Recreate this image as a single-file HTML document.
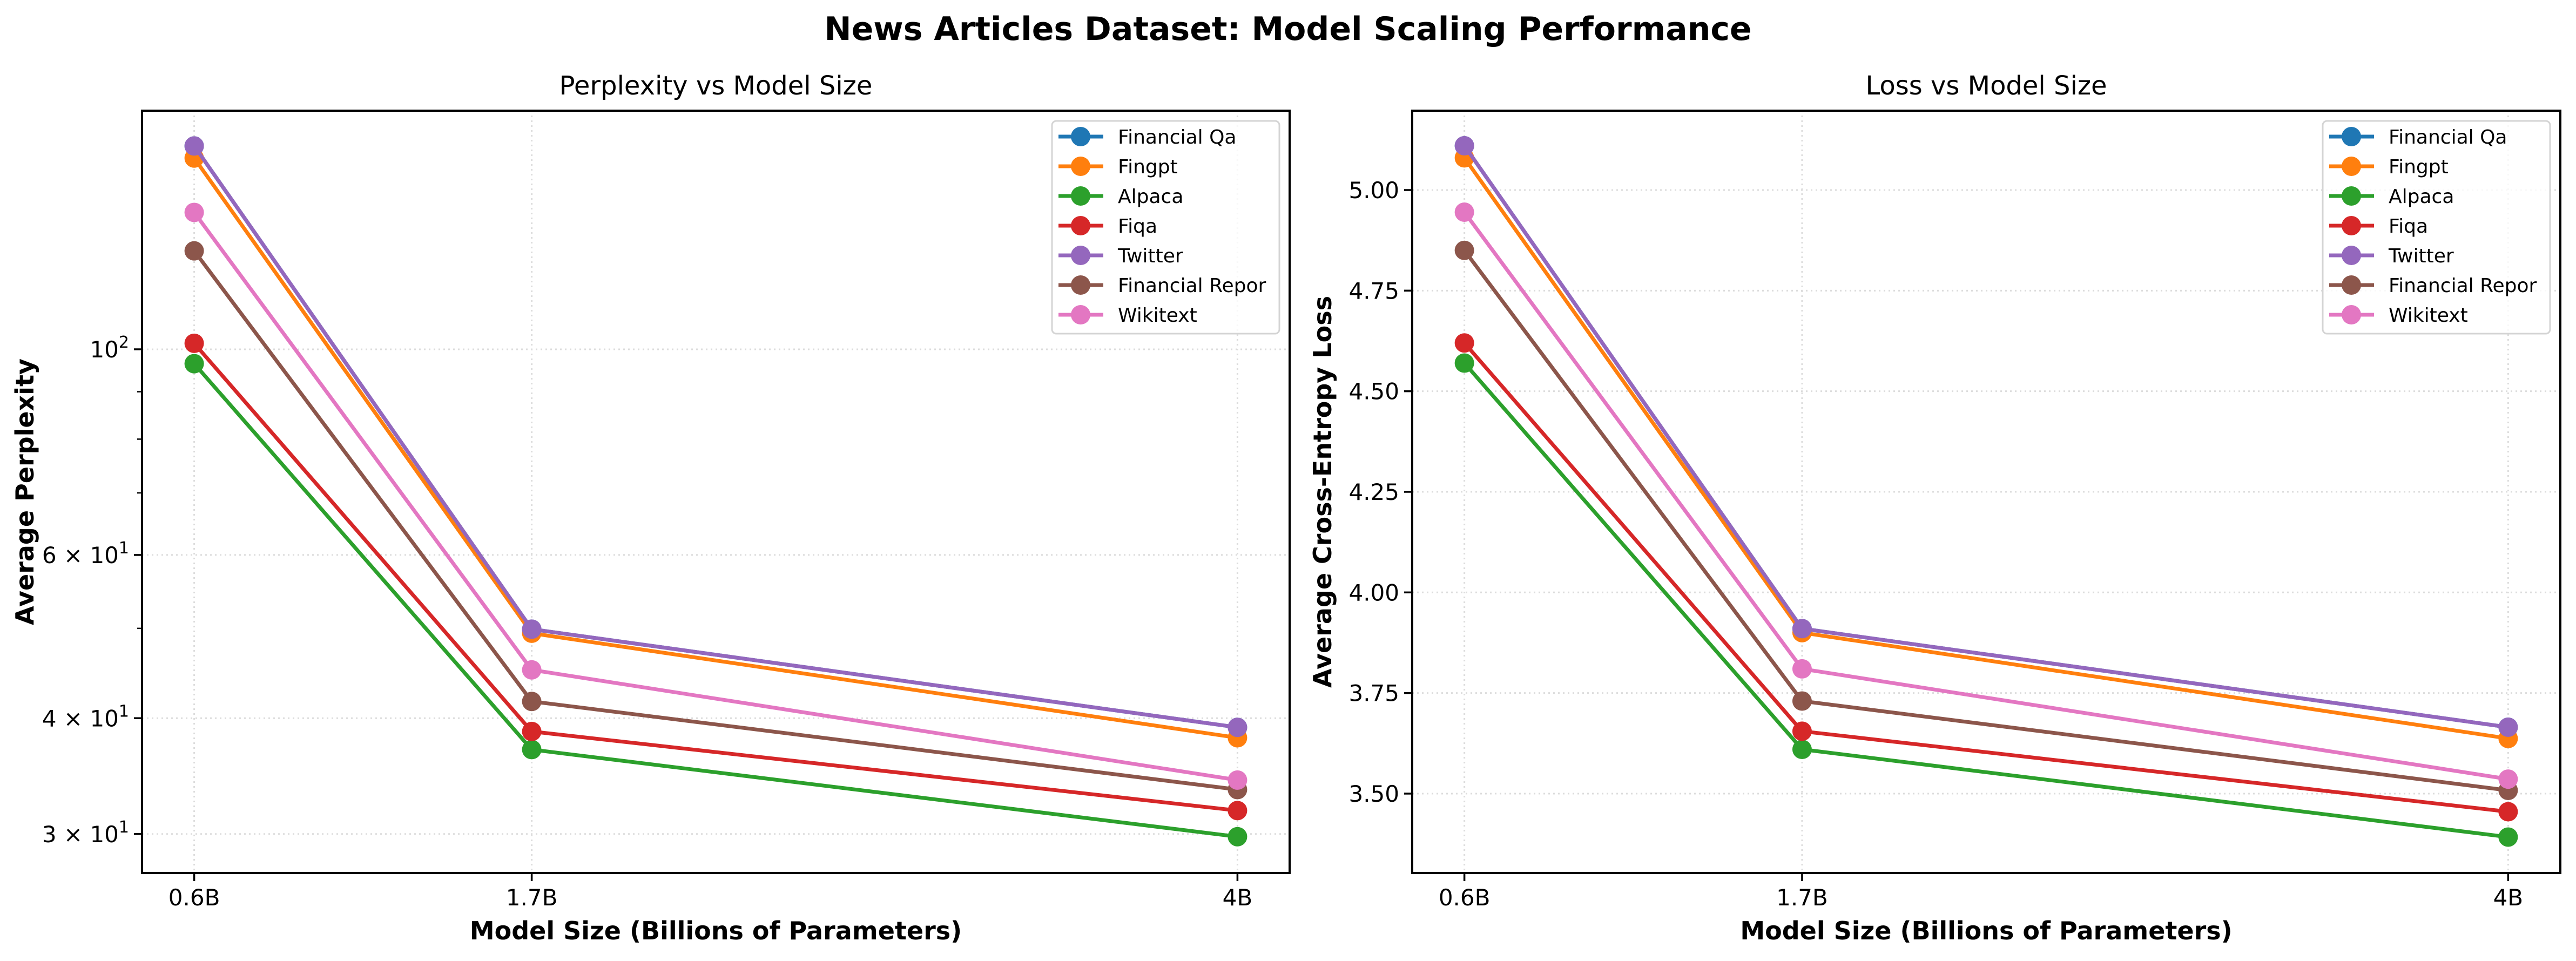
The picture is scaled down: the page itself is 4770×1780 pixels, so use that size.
<!DOCTYPE html>
<html><head><meta charset="utf-8"><style>
html,body{margin:0;padding:0;background:#fff;}
svg{display:block;font-family:"DejaVu Sans","Liberation Sans",sans-serif;}
</style></head><body>
<svg id="fig" width="4770" height="1780" viewBox="0 0 4770 1780" xmlns="http://www.w3.org/2000/svg">
<rect width="4770" height="1780" fill="#fff"/>
<text x="2385" y="74" text-anchor="middle" font-size="60" font-weight="bold">News Articles Dataset: Model Scaling Performance</text>
<g id="left"></g>
<g id="right"></g>
</svg>
<script>
const modelSizes = [0.6, 1.7, 4];
const sizeLabels = ["0.6B", "1.7B", "4B"];
const seriesNames = ["Financial Qa", "Fingpt", "Alpaca", "Fiqa", "Twitter", "Financial Repor", "Wikitext"];
const seriesColors = ["#1f77b4", "#ff7f0e", "#2ca02c", "#d62728", "#9467bd", "#8c564b", "#e377c2"];
const pplFinQa = [165.7, 49.9, 39.1];
const pplFingpt = [160.8, 49.4, 38.1];
const pplAlpaca = [96.5, 37.0, 29.8];
const pplFiqa = [101.5, 38.7, 31.8];
const pplTwitter = [165.7, 49.9, 39.1];
const pplFinRep = [127.7, 41.7, 33.5];
const pplWiki = [140.5, 45.1, 34.3];
const lossFinQa = [5.11, 3.91, 3.665];
const lossFingpt = [5.08, 3.90, 3.637];
const lossAlpaca = [4.57, 3.61, 3.392];
const lossFiqa = [4.62, 3.655, 3.455];
const lossTwitter = [5.11, 3.91, 3.665];
const lossFinRep = [4.85, 3.73, 3.508];
const lossWiki = [4.945, 3.81, 3.536];
const pplTicks = [30, 40, 60, 100];
const pplTickLabels = ["3", "4", "6", "10"];
const pplMinorTicks = [50, 70, 80, 90];
const lossTicks = [3.5, 3.75, 4.0, 4.25, 4.5, 4.75, 5.0];
const lossTickLabels = ["3.50", "3.75", "4.00", "4.25", "4.50", "4.75", "5.00"];

const pplSeries = [pplFinQa, pplFingpt, pplAlpaca, pplFiqa, pplTwitter, pplFinRep, pplWiki];
const lossSeries = [lossFinQa, lossFingpt, lossAlpaca, lossFiqa, lossTwitter, lossFinRep, lossWiki];

const NS = "http://www.w3.org/2000/svg";
function mk(parent, tag, attrs) {
  const e = document.createElementNS(NS, tag);
  for (const k in attrs) e.setAttribute(k, attrs[k]);
  parent.appendChild(e);
  return e;
}

function panel(g, x0, x1, yScale, series, ticks, tickLabels, isLog, title, ylabel) {
  const top = 205, bot = 1617;
  const xmin = 0.6, xmax = 4, m = (x1 - x0) / 1.1 * 0.05;
  const xs = v => x0 + m + (v - xmin) / (xmax - xmin) * (x1 - x0 - 2 * m);
  modelSizes.forEach((v, i) => {
    const l = mk(g, "line", {x1: xs(v), x2: xs(v), y1: top, y2: bot, stroke: "#dcdcdc", "stroke-width": 3, "stroke-dasharray": "3 6"});
    
    
  });
  ticks.forEach(v => {
    const l = mk(g, "line", {x1: x0, x2: x1, y1: yScale(v), y2: yScale(v), stroke: "#dcdcdc", "stroke-width": 3, "stroke-dasharray": "3 6"});
    
    
  });
  series.forEach((vals, si) => {
    const pts = vals.map((v, i) => xs(modelSizes[i]) + "," + yScale(v)).join(" ");
    const sg = mk(g, "g", {});
    
    
    mk(sg, "polyline", {points: pts, fill: "none", stroke: seriesColors[si], "stroke-width": 7, "stroke-linejoin": "round"});
    vals.forEach((v, i) => {
      const c = mk(sg, "circle", {cx: xs(modelSizes[i]), cy: yScale(v), r: 18, fill: seriesColors[si]});
      
      
    });
  });
  const frame = mk(g, "rect", {x: x0, y: top, width: x1 - x0, height: bot - top, fill: "none", stroke: "#000", "stroke-width": 4});
  
  
  modelSizes.forEach((v, i) => {
    mk(g, "line", {x1: xs(v), x2: xs(v), y1: bot, y2: bot + 15, stroke: "#000", "stroke-width": 3.5});
    const t = mk(g, "text", {x: xs(v), y: bot + 60, "text-anchor": "middle", "font-size": 42});
    t.textContent = sizeLabels[i];
    
    
  });
  ticks.forEach((v, i) => {
    const y = yScale(v);
    mk(g, "line", {x1: x0 - 15, x2: x0, y1: y, y2: y, stroke: "#000", "stroke-width": 3.5});
    const t = mk(g, "text", {x: x0 - 24, y: y + 15, "text-anchor": "end", "font-size": 42});
    if (isLog) {
      if (v === 100) {
        t.innerHTML = '10<tspan dy="-18" font-size="30">2</tspan>';
      } else {
        t.innerHTML = tickLabels[i] + ' × 10<tspan dy="-18" font-size="30">1</tspan>';
      }
    } else {
      t.textContent = tickLabels[i];
    }
    
    
  });
  if (isLog) {
    pplMinorTicks.forEach(v => {
      mk(g, "line", {x1: x0 - 9, x2: x0, y1: yScale(v), y2: yScale(v), stroke: "#000", "stroke-width": 2.5});
    });
  }
  const tt = mk(g, "text", {x: (x0 + x1) / 2, y: 175, "text-anchor": "middle", "font-size": 48});
  tt.textContent = title;
  
  
  const xl = mk(g, "text", {x: (x0 + x1) / 2, y: 1740, "text-anchor": "middle", "font-size": 46, "font-weight": "bold"});
  xl.textContent = "Model Size (Billions of Parameters)";
  
  
  const lx = isLog ? 62 : 2465;
  const yl = mk(g, "text", {x: lx, y: (top + bot) / 2, "text-anchor": "middle", "font-size": 46, "font-weight": "bold", transform: "rotate(-90 " + lx + " " + ((top + bot) / 2) + ")"});
  yl.textContent = ylabel;
  
  
  const lg = mk(g, "g", {});
  
  
  const lx0 = x1 - 440;
  mk(lg, "rect", {x: lx0, y: 224, width: 421, height: 394, rx: 8, fill: "#fff", "fill-opacity": 0.8, stroke: "#d4d4d4", "stroke-width": 3});
  seriesNames.forEach((n, i) => {
    const y = 253 + i * 55;
    const e = mk(lg, "g", {});
    
    
    mk(e, "line", {x1: lx0 + 12, x2: lx0 + 95, y1: y, y2: y, stroke: seriesColors[i], "stroke-width": 7});
    mk(e, "circle", {cx: lx0 + 53, cy: y, r: 18, fill: seriesColors[i]});
    const t = mk(e, "text", {x: lx0 + 122, y: y + 13, "font-size": 36});
    t.textContent = n;
  });
}

const pplY = v => 647 - (Math.log10(v) - 2) * 1717;
const lossY = v => 352 + (5.0 - v) * 745.3;
panel(document.getElementById("left"), 263, 2388, pplY, pplSeries, pplTicks, pplTickLabels, true, "Perplexity vs Model Size", "Average Perplexity");
panel(document.getElementById("right"), 2615, 4741, lossY, lossSeries, lossTicks, lossTickLabels, false, "Loss vs Model Size", "Average Cross-Entropy Loss");
</script>
</body></html>
